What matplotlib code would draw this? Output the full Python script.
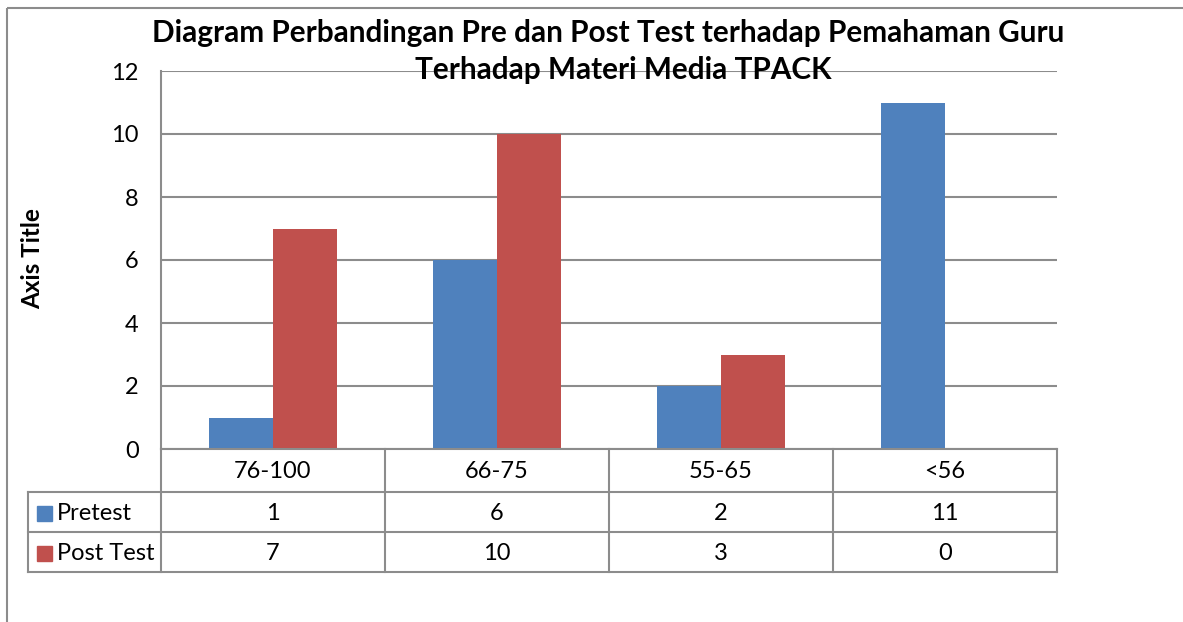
import numpy as np
import matplotlib
matplotlib.use("Agg")
import matplotlib.pyplot as plt
from matplotlib.patches import Rectangle

# Data
categories = ["76-100", "66-75", "55-65", "<56"]
pretest = [1, 6, 2, 11]
posttest = [7, 10, 3, 0]
series_names = ["Pretest", "Post Test"]
colors = ["#4F81BD", "#C0504D"]
title_lines = ["Diagram Perbandingan Pre dan Post Test terhadap Pemahaman Guru",
               "Terhadap Materi Media TPACK"]

W, H = 1183, 622
plt.rcParams["font.family"] = ["Lato", "DejaVu Sans"]
fig = plt.figure(figsize=(W / 100, H / 100), dpi=100)

# plot area in pixels
x0, x1, y_top, y_bot = 161, 1057, 71, 449
ax = fig.add_axes([x0 / W, 1 - y_bot / H, (x1 - x0) / W, (y_bot - y_top) / H])

n = len(categories)
x = np.arange(n)
bw = 0.286
ax.bar(x - bw / 2, pretest, bw, color=colors[0], zorder=3)
ax.bar(x + bw / 2, posttest, bw, color=colors[1], zorder=3)
ax.set_xlim(-0.5, n - 0.5)
ax.set_ylim(0, 12)
ax.set_yticks(range(0, 13, 2))
ax.yaxis.grid(True, color="#8C8C8C", linewidth=1.5, zorder=0)
ax.set_xticks([])
ax.tick_params(axis="y", length=0, labelsize=17, pad=16)
for s in ["top", "right", "bottom"]:
    ax.spines[s].set_visible(False)
ax.spines["left"].set_color("#8C8C8C")
ax.spines["left"].set_linewidth(1.5)

# overlay in pixel coordinates for frame, labels and data table
ov = fig.add_axes([0, 0, 1, 1], zorder=5)
ov.set_xlim(0, W)
ov.set_ylim(H, 0)
ov.axis("off")
ov.patch.set_alpha(0)
ov.add_patch(Rectangle((7.5, 7.5), W + 20, H + 20, fill=False, edgecolor="#8C8C8C", linewidth=1.5))

ov.text(33, 259, "Axis Title", rotation=90, ha="center", va="center", fontsize=17.5, fontweight="bold")

gc = "#8C8C8C"
lw = 1.5
cw = (x1 - x0) / n
rows = [449, 492, 532, 572]
lx = 28
# horizontal lines
ov.plot([x0, x1], [rows[0], rows[0]], color=gc, lw=lw)
for r in rows[1:]:
    ov.plot([lx, x1], [r, r], color=gc, lw=lw)
# vertical lines
for i in range(n + 1):
    ov.plot([x0 + i * cw] * 2, [rows[0], rows[3]], color=gc, lw=lw)
ov.plot([lx, lx], [rows[1], rows[3]], color=gc, lw=lw)

for i, c in enumerate(categories):
    ov.text(x0 + (i + 0.5) * cw, (rows[0] + rows[1]) / 2 + 1, c, ha="center", va="center", fontsize=17)
for j, vals in enumerate([pretest, posttest]):
    yc = (rows[j + 1] + rows[j + 2]) / 2 + 1
    ov.add_patch(Rectangle((37, yc - 7), 15, 15, color=colors[j]))
    ov.text(57, yc, series_names[j], ha="left", va="center", fontsize=17)
    for i, v in enumerate(vals):
        ov.text(x0 + (i + 0.5) * cw, yc, str(v), ha="center", va="center", fontsize=17)

ov.text(608, 33, title_lines[0], ha="center", va="center", fontsize=21.4, fontweight="bold")
ov.text(623, 70, title_lines[1], ha="center", va="center", fontsize=21.4, fontweight="bold")

fig.savefig("out.png", dpi=100)
